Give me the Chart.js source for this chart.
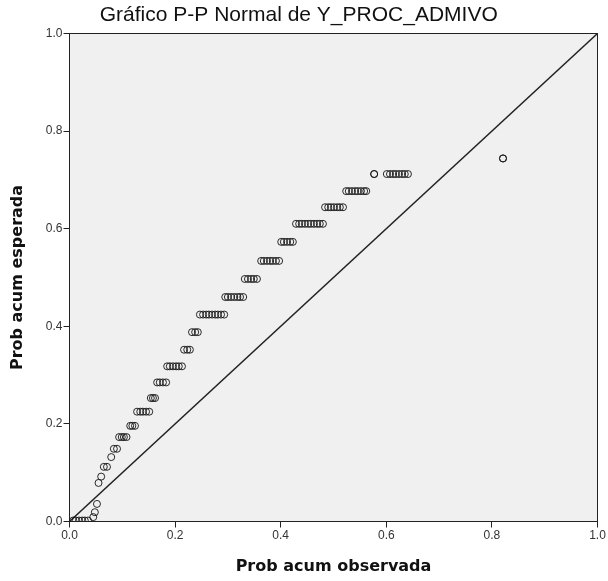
<!DOCTYPE html>
<html>
<head>
<meta charset="utf-8">
<script src="https://cdn.jsdelivr.net/npm/chart.js@4.4.0/dist/chart.umd.min.js"></script>
<style>
  html, body { margin: 0; padding: 0; background: #fff; }
  #wrap { width: 608px; height: 581px; }
</style>
</head>
<body>
<div id="wrap"><canvas id="ppChart" width="608" height="581"></canvas></div>
<script>
// Expected cumulative probability for each tied group (one row of circles)
const expected = [0.002, 0.009, 0.019, 0.036, 0.079, 0.092, 0.112, 0.132, 0.149, 0.173,
    0.196, 0.225, 0.253, 0.285, 0.318, 0.352, 0.388, 0.424, 0.460, 0.497,
    0.534, 0.573, 0.610, 0.644, 0.677, 0.712, 0.744];

// Observed cumulative probability of each case inside the group
const observed = [
    [0.007, 0.012, 0.018, 0.024, 0.029, 0.035],
    [0.045],
    [0.048],
    [0.052],
    [0.055],
    [0.060],
    [0.065, 0.071],
    [0.079],
    [0.084, 0.090],
    [0.094, 0.099, 0.103, 0.108],
    [0.115, 0.119, 0.124],
    [0.128, 0.134, 0.139, 0.145, 0.151],
    [0.154, 0.158, 0.162],
    [0.166, 0.171, 0.177, 0.183],
    [0.185, 0.190, 0.196, 0.202, 0.207, 0.213],
    [0.217, 0.223, 0.228],
    [0.232, 0.238, 0.243],
    [0.247, 0.253, 0.259, 0.264, 0.270, 0.276, 0.281, 0.287, 0.293],
    [0.295, 0.300, 0.306, 0.312, 0.318, 0.323, 0.329],
    [0.332, 0.338, 0.344, 0.349, 0.355],
    [0.363, 0.368, 0.374, 0.380, 0.385, 0.391, 0.397],
    [0.401, 0.406, 0.412, 0.418, 0.423],
    [0.429, 0.435, 0.440, 0.446, 0.452, 0.457, 0.463, 0.469, 0.474, 0.480],
    [0.484, 0.490, 0.495, 0.501, 0.507, 0.512, 0.518],
    [0.524, 0.529, 0.535, 0.541, 0.546, 0.552, 0.558, 0.562],
    [0.577, 0.577, 0.601, 0.607, 0.613, 0.618, 0.624, 0.630, 0.635, 0.641],
    [0.821, 0.821]
];

// Reference diagonal
const diagonal = [0, 1];
const tickValues = [0, 0.2, 0.4, 0.6, 0.8, 1.0];

const points = [];
observed.forEach((group, i) => {
    group.forEach(x => points.push({ x: x, y: expected[i] }));
});

// Grey plot background + frame
const plotFrame = {
    id: 'plotFrame',
    beforeDraw(chart) {
        const { ctx, chartArea: a } = chart;
        ctx.save();
        ctx.fillStyle = '#f0f0f0';
        ctx.fillRect(a.left, a.top, a.right - a.left, a.bottom - a.top);
        ctx.restore();
    },
    afterDraw(chart) {
        const { ctx, chartArea: a } = chart;
        ctx.save();
        ctx.strokeStyle = '#222';
        ctx.lineWidth = 1;
        ctx.strokeRect(a.left, a.top, a.right - a.left, a.bottom - a.top);
        ctx.restore();
    }
};

const tickFont = { family: 'Liberation Sans, Arial, sans-serif', size: 12 };
const titleFont = { family: 'DejaVu Sans, sans-serif', size: 16, weight: 'bold' };

new Chart(document.getElementById('ppChart'), {
    type: 'scatter',
    data: {
        datasets: [{
            type: 'line',
            data: diagonal.map(v => ({ x: v, y: v })),
            borderColor: '#222',
            borderWidth: 1.5,
            pointRadius: 0,
            fill: false,
            order: 2
        }, {
            data: points,
            pointStyle: 'circle',
            pointRadius: 3.5,
            pointBorderWidth: 1,
            borderColor: 'rgba(20,20,20,0.9)',
            backgroundColor: 'rgba(0,0,0,0)',
            order: 1
        }]
    },
    options: {
        responsive: false,
        animation: false,
        layout: { padding: { top: 0, left: 0, right: 10.5, bottom: 0 } },
        plugins: {
            legend: { display: false },
            tooltip: { enabled: false },
            title: {
                display: true,
                text: 'Gráfico P-P Normal de Y_PROC_ADMIVO',
                color: '#111',
                font: { family: 'Liberation Sans, Arial, sans-serif', size: 21, weight: 'normal' },
                padding: { top: 3, bottom: 5.3 }
            }
        },
        scales: {
            x: {
                type: 'linear',
                min: 0,
                max: 1,
                afterFit(scale) { scale.height = 59.5; },
                afterBuildTicks(scale) { scale.ticks = tickValues.map(v => ({ value: v })); },
                ticks: {
                    color: '#333',
                    font: tickFont,
                    padding: 1,
                    callback: v => v.toFixed(1)
                },
                grid: { drawOnChartArea: false, drawTicks: true, tickLength: 6, color: '#222' },
                border: { display: true, color: '#222' },
                title: {
                    display: true,
                    text: 'Prob acum observada',
                    color: '#111',
                    font: titleFont,
                    padding: { top: 0, bottom: 5 }
                }
            },
            y: {
                type: 'linear',
                min: 0,
                max: 1,
                afterFit(scale) { scale.width = 69.5; },
                afterBuildTicks(scale) { scale.ticks = tickValues.map(v => ({ value: v })); },
                ticks: {
                    color: '#333',
                    font: tickFont,
                    padding: 1,
                    callback: v => v.toFixed(1)
                },
                grid: { drawOnChartArea: false, drawTicks: true, tickLength: 6, color: '#222' },
                border: { display: true, color: '#222' },
                title: {
                    display: true,
                    text: 'Prob acum esperada',
                    color: '#111',
                    font: titleFont,
                    padding: { top: 8, bottom: 0 }
                }
            }
        }
    },
    plugins: [plotFrame]
});
</script>
</body>
</html>
